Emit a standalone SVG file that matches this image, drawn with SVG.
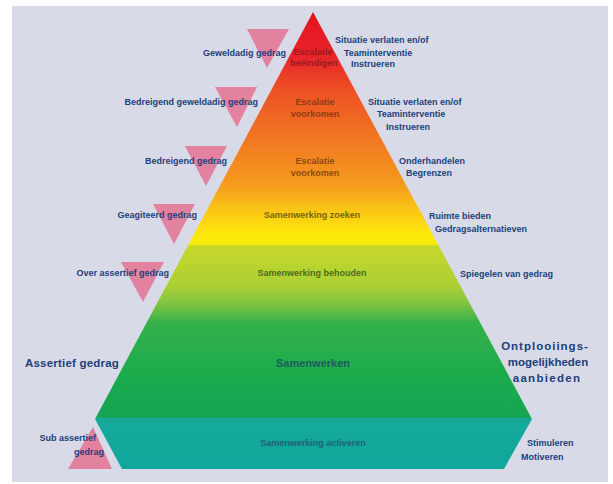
<svg xmlns="http://www.w3.org/2000/svg" width="613" height="484" viewBox="0 0 613 484">
<defs>
<linearGradient id="pyr" gradientUnits="userSpaceOnUse" x1="0" y1="12" x2="0" y2="469">
<stop offset="0" stop-color="#e3121d"/>
<stop offset="0.10" stop-color="#e8252a"/>
<stop offset="0.17" stop-color="#ed5124"/>
<stop offset="0.28" stop-color="#f27822"/>
<stop offset="0.38" stop-color="#f59c1d"/>
<stop offset="0.43" stop-color="#fac416"/>
<stop offset="0.485" stop-color="#fde70b"/>
<stop offset="0.508" stop-color="#f8ec0a"/>
<stop offset="0.512" stop-color="#c6d82a"/>
<stop offset="0.60" stop-color="#abd035"/>
<stop offset="0.64" stop-color="#7fc341"/>
<stop offset="0.68" stop-color="#35b14a"/>
<stop offset="0.78" stop-color="#1eac4c"/>
<stop offset="0.886" stop-color="#15a553"/>
<stop offset="0.89" stop-color="#16a99b"/>
<stop offset="1" stop-color="#0fa69b"/>
</linearGradient>
</defs>
<style>
.lbl{font-family:"Liberation Sans",Arial,sans-serif;font-weight:bold;font-size:9px;fill:#22407a}
.big{font-size:11.5px}
.ctr{font-family:"Liberation Sans",Arial,sans-serif;font-weight:bold;font-size:9px;text-anchor:middle}
.tri{fill:#e2829f}
.end{text-anchor:end}
.mid{text-anchor:middle}
</style>
<rect x="12" y="6" width="596" height="476" fill="#d8dbe7"/>

<g id="pyramid">
<polygon points="313,12 532,419 504,469 122,469 95,419" fill="url(#pyr)"/>
</g>

<g id="connectors"></g>

<g id="level1">
<polygon class="tri" points="247,29 289,29 267,68"/>
<text class="lbl end" x="286" y="56">Geweldadig gedrag</text>
<text class="ctr" x="313" y="55" fill="#9a1a22">Escalatie</text>
<text class="ctr" x="314" y="66" fill="#9a1a22">beëindigen</text>
<text class="lbl" x="335" y="43">Situatie verlaten en/of</text>
<text class="lbl" x="344" y="56">Teaminterventie</text>
<text class="lbl" x="351" y="67">Instrueren</text>
</g>

<g id="level2">
<polygon class="tri" points="215,87 257,87 237,127"/>
<text class="lbl end" x="258" y="105">Bedreigend geweldadig gedrag</text>
<text class="ctr" x="315" y="105" fill="#8e3c14">Escalatie</text>
<text class="ctr" x="315" y="117" fill="#8e3c14">voorkomen</text>
<text class="lbl" x="368" y="105">Situatie verlaten en/of</text>
<text class="lbl" x="377" y="117">Teaminterventie</text>
<text class="lbl" x="386" y="130">Instrueren</text>
</g>

<g id="level3">
<polygon class="tri" points="185,146 227,146 206,186"/>
<text class="lbl end" x="227" y="164">Bedreigend gedrag</text>
<text class="ctr" x="315" y="164" fill="#8e4a14">Escalatie</text>
<text class="ctr" x="315" y="176" fill="#8e4a14">voorkomen</text>
<text class="lbl" x="399" y="164">Onderhandelen</text>
<text class="lbl" x="406" y="176">Begrenzen</text>
</g>

<g id="level4">
<polygon class="tri" points="153,204 195,204 174,244"/>
<text class="lbl end" x="197" y="218">Geagiteerd gedrag</text>
<text class="ctr" x="312" y="218" fill="#7a6410">Samenwerking zoeken</text>
<text class="lbl" x="429" y="219">Ruimte bieden</text>
<text class="lbl" x="435" y="232">Gedragsalternatieven</text>
</g>

<g id="level5">
<polygon class="tri" points="121,262 164,262 143,302"/>
<text class="lbl end" x="169" y="276">Over assertief gedrag</text>
<text class="ctr" x="312" y="276" fill="#4e6a22">Samenwerking behouden</text>
<text class="lbl" x="460" y="277">Spiegelen van gedrag</text>
</g>

<g id="level6">
<text class="lbl big" x="25" y="367" letter-spacing="0.2">Assertief gedrag</text>
<text class="ctr" x="313" y="367" font-size="11" fill="#1d5a5c" style="font-size:11px">Samenwerken</text>
<text class="lbl big mid" x="545" y="350" letter-spacing="1">Ontplooiings-</text>
<text class="lbl big mid" x="548" y="366">mogelijkheden</text>
<text class="lbl big mid" x="547" y="382" letter-spacing="1.3">aanbieden</text>
</g>

<g id="level7">
<polygon class="tri" points="93,427 112,469 68,469"/>
<text class="lbl end" x="96" y="441">Sub assertief</text>
<text class="lbl end" x="104" y="455">gedrag</text>
<text class="ctr" x="313" y="446" fill="#22607a">Samenwerking activeren</text>
<text class="lbl" x="527" y="446">Stimuleren</text>
<text class="lbl" x="521" y="460">Motiveren</text>
</g>
</svg>
